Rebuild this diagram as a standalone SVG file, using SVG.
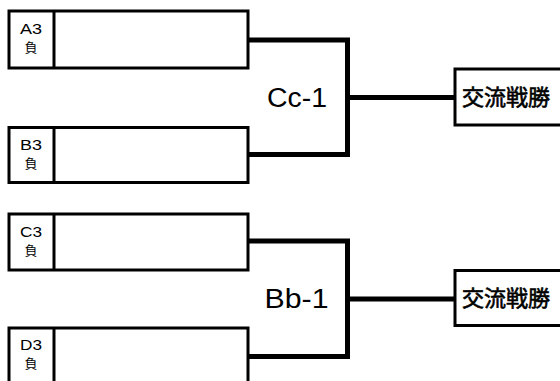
<svg xmlns="http://www.w3.org/2000/svg" width="560" height="381" viewBox="0 0 560 381">
<style>
.box{fill:#fff;stroke:#000;stroke-width:3}
.div{stroke:#000;stroke-width:3}
.con{fill:none;stroke:#000;stroke-width:5}
.lbl{font-family:"Liberation Sans","Noto Sans CJK JP",sans-serif;font-size:14px;fill:#000;text-anchor:middle}
.neg{font-family:"Noto Sans CJK JP",sans-serif;font-size:13px;fill:#000;text-anchor:middle}
.match{font-family:"Liberation Sans","Noto Sans CJK JP",sans-serif;font-size:27px;fill:#000;text-anchor:middle}
.win{font-family:"Noto Sans CJK JP",sans-serif;font-size:22px;fill:#000;stroke:#000;stroke-width:0.6}
</style>
<rect width="560" height="381" fill="#fff"/>
<g id="connectors">
<path class="con" d="M249 40 H347.5 V154.5 H249"/>
<path class="con" d="M347.5 97.5 H455"/>
<path class="con" d="M249 241 H347.5 V356.5 H249"/>
<path class="con" d="M347.5 299 H455"/>
</g>
<g id="nodeA3">
<rect class="box" x="9" y="11" width="239" height="57"/>
<line class="div" x1="54" y1="11" x2="54" y2="68"/>
<text class="lbl" x="31" y="33.5" textLength="22" lengthAdjust="spacingAndGlyphs">A3</text>
<text class="neg" x="31" y="52">負</text>
</g>
<g id="nodeB3">
<rect class="box" x="9" y="127.5" width="239" height="55"/>
<line class="div" x1="54" y1="127.5" x2="54" y2="182.5"/>
<text class="lbl" x="31" y="149.5" textLength="22" lengthAdjust="spacingAndGlyphs">B3</text>
<text class="neg" x="31" y="168">負</text>
</g>
<g id="nodeC3">
<rect class="box" x="9" y="214" width="239" height="56"/>
<line class="div" x1="54" y1="214" x2="54" y2="270"/>
<text class="lbl" x="31" y="236.5" textLength="22" lengthAdjust="spacingAndGlyphs">C3</text>
<text class="neg" x="31" y="255">負</text>
</g>
<g id="nodeD3">
<rect class="box" x="9" y="328" width="239" height="60"/>
<line class="div" x1="54" y1="328" x2="54" y2="388"/>
<text class="lbl" x="31" y="349.5" textLength="22" lengthAdjust="spacingAndGlyphs">D3</text>
<text class="neg" x="31" y="368">負</text>
</g>
<g id="labelCc1">
<text class="match" x="297" y="107" textLength="60" lengthAdjust="spacingAndGlyphs">Cc-1</text>
</g>
<g id="labelBb1">
<text class="match" x="296.5" y="308" textLength="64" lengthAdjust="spacingAndGlyphs">Bb-1</text>
</g>
<g id="win1">
<rect class="box" x="455" y="69" width="120" height="56"/>
<text class="win" x="462" y="105">交流戦勝</text>
</g>
<g id="win2">
<rect class="box" x="455" y="270.5" width="120" height="55"/>
<text class="win" x="462" y="306">交流戦勝</text>
</g>
</svg>
